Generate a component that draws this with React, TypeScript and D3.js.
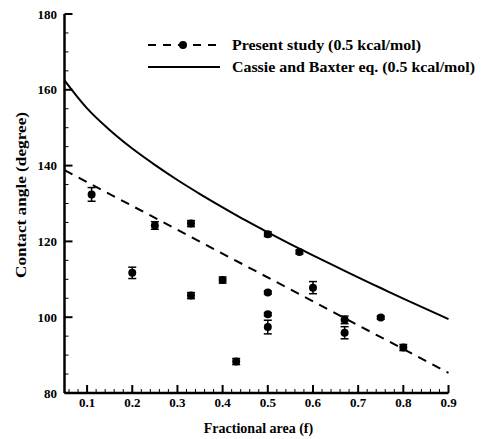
import React, { useEffect } from 'react';
import * as d3 from 'd3';

// measured contact angles (present study)
const studyF = [0.11, 0.2, 0.25, 0.33, 0.33, 0.4, 0.43, 0.5, 0.5, 0.5, 0.5, 0.57, 0.6, 0.67, 0.67, 0.75, 0.8];
const studyAngle = [132.4, 111.7, 124.2, 124.7, 105.7, 109.8, 88.3, 121.9, 106.5, 100.8, 97.4, 117.2, 107.8, 99.3, 95.9, 99.9, 92.0];
const studyErr = [1.8, 1.5, 1.0, 0.8, 0.8, 0.8, 0.8, 0.6, 0.4, 0.4, 1.8, 0.5, 1.6, 1.0, 1.6, 0.4, 0.8];

// dashed trend line of the study
const fitF = [0.05, 0.9];
const fitAngle = [138.8, 85.3];

// Cassie and Baxter curve
const cbF = [0.05, 0.1, 0.15, 0.2, 0.25, 0.3, 0.35, 0.4, 0.45, 0.5, 0.55, 0.6, 0.65, 0.7, 0.75, 0.8, 0.85, 0.9];
const cbAngle = [162.5, 155.1, 149.4, 144.5, 140.2, 136.2, 132.5, 129.0, 125.6, 122.4, 119.3, 116.3, 113.4, 110.5, 107.7, 104.9, 102.2, 99.5];

const xTicks = [0.1, 0.2, 0.3, 0.4, 0.5, 0.6, 0.7, 0.8, 0.9];
const yTicks = [80, 100, 120, 140, 160, 180];

const W = 485;
const H = 439;
const font = '"Liberation Serif", "Times New Roman", serif';

export default function App() {
  useEffect(() => {
    document.body.style.margin = '0';
  }, []);

  const x = d3.scaleLinear().domain([0.05, 0.9]).range([64.5, 448.5]);
  const y = d3.scaleLinear().domain([80, 180]).range([393, 14]);

  const xMinor = d3.range(0.06, 0.9001, 0.02).filter(v => !xTicks.some(t => Math.abs(t - v) < 1e-6));
  const yMinor = d3.range(85, 180, 5).filter(v => v % 20 !== 0);

  const line = d3.line<[number, number]>().x(d => x(d[0])).y(d => y(d[1]));
  const cbPath = d3.line<[number, number]>().x(d => x(d[0])).y(d => y(d[1])).curve(d3.curveMonotoneX)(
    cbF.map((f, i) => [f, cbAngle[i]])
  );
  const fitPath = line(fitF.map((f, i) => [f, fitAngle[i]]));

  return (
    <svg width={W} height={H} style={{ display: 'block', background: '#fff' }} fontFamily={font}>
      {/* curves */}
      <path d={cbPath || ''} fill="none" stroke="#000" strokeWidth={2} />
      <path d={fitPath || ''} fill="none" stroke="#000" strokeWidth={2} strokeDasharray="9,7" />

      {/* data points with error bars */}
      {studyF.map((f, i) => {
        const cx = x(f);
        const cy = y(studyAngle[i]);
        const top = y(studyAngle[i] + studyErr[i]);
        const bot = y(studyAngle[i] - studyErr[i]);
        return (
          <g key={i}>
            <line x1={cx} x2={cx} y1={top} y2={bot} stroke="#000" strokeWidth={1.5} />
            <line x1={cx - 4} x2={cx + 4} y1={top} y2={top} stroke="#000" strokeWidth={1.5} />
            <line x1={cx - 4} x2={cx + 4} y1={bot} y2={bot} stroke="#000" strokeWidth={1.5} />
            <circle cx={cx} cy={cy} r={4} fill="#000" />
          </g>
        );
      })}

      {/* axes */}
      <line x1={x(0.05)} x2={x(0.9)} y1={y(80)} y2={y(80)} stroke="#000" strokeWidth={2.5} />
      <line x1={x(0.05)} x2={x(0.05)} y1={y(80)} y2={y(180)} stroke="#000" strokeWidth={2.5} />
      {xTicks.map(t => (
        <g key={'xt' + t}>
          <line x1={x(t)} x2={x(t)} y1={y(80)} y2={y(80) - 8} stroke="#000" strokeWidth={2} />
          <text x={x(t)} y={407} textAnchor="middle" fontSize={13} fontWeight="bold">{t.toFixed(1)}</text>
        </g>
      ))}
      {xMinor.map(t => (
        <line key={'xm' + t} x1={x(t)} x2={x(t)} y1={y(80)} y2={y(80) - 4} stroke="#000" strokeWidth={1} />
      ))}
      {yTicks.map(t => (
        <g key={'yt' + t}>
          <line x1={x(0.05)} x2={x(0.05) + 8} y1={y(t)} y2={y(t)} stroke="#000" strokeWidth={2} />
          <text x={57} y={y(t)} dy="0.35em" textAnchor="end" fontSize={13} fontWeight="bold">{t}</text>
        </g>
      ))}
      {yMinor.map(t => (
        <line key={'ym' + t} x1={x(0.05)} x2={x(0.05) + 4} y1={y(t)} y2={y(t)} stroke="#000" strokeWidth={1} />
      ))}

      {/* axis titles */}
      <text x={(x(0.05) + x(0.9)) / 2 + 2} y={433} textAnchor="middle" fontSize={14} fontWeight="bold">
        Fractional area (f)
      </text>
      <text
        transform="translate(26,195) rotate(-90)"
        textAnchor="middle"
        fontSize={15}
        fontWeight="bold"
        textLength={166}
        lengthAdjust="spacingAndGlyphs"
      >
        Contact angle (degree)
      </text>

      {/* legend */}
      <line x1={148} x2={220} y1={45} y2={45} stroke="#000" strokeWidth={2} strokeDasharray="8,7" />
      <circle cx={183} cy={45} r={4} fill="#000" />
      <text x={232} y={45} dy="0.35em" fontSize={14} fontWeight="bold" textLength={189} lengthAdjust="spacingAndGlyphs">
        Present study (0.5 kcal/mol)
      </text>
      <line x1={148} x2={220} y1={67} y2={67} stroke="#000" strokeWidth={2} />
      <text x={232} y={67} dy="0.35em" fontSize={14} fontWeight="bold" textLength={243} lengthAdjust="spacingAndGlyphs">
        Cassie and Baxter eq. (0.5 kcal/mol)
      </text>
    </svg>
  );
}
